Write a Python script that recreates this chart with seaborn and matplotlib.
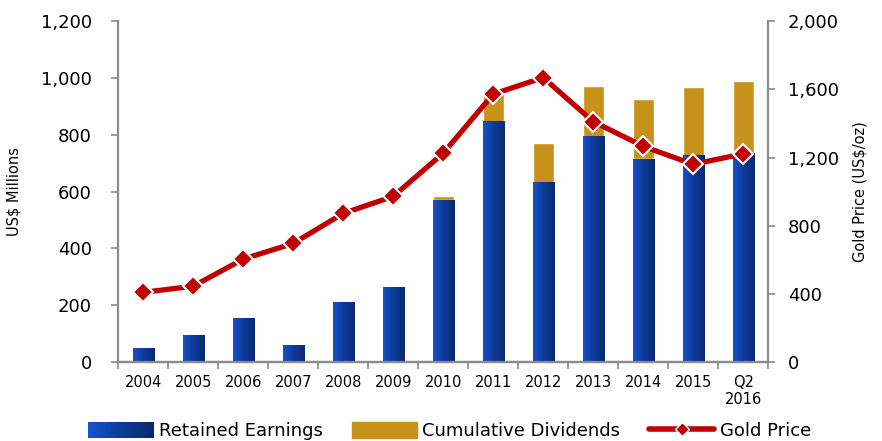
import matplotlib
matplotlib.use("Agg")
import matplotlib.pyplot as plt
import matplotlib.patches as mpatches
from matplotlib.lines import Line2D
from matplotlib.colors import LinearSegmentedColormap
from matplotlib.legend_handler import HandlerBase
import numpy as np
import pandas as pd
import seaborn as sns

# data
years = ["2004", "2005", "2006", "2007", "2008", "2009", "2010",
         "2011", "2012", "2013", "2014", "2015", "Q2\n2016"]
retained = [46, 92, 152, 57, 209, 262, 570, 845, 631, 793, 714, 727, 735]
dividends = [0, 0, 0, 0, 0, 0, 13, 113, 140, 179, 212, 242, 255]
gold_price = [409, 445, 604, 696, 872, 972, 1225, 1572, 1669, 1411, 1266, 1160, 1222]

df = pd.DataFrame({"year": years, "retained": retained, "dividends": dividends, "gold": gold_price})
df["total"] = df["retained"] + df["dividends"]

sns.set_theme(style="white")
plt.rcParams["font.family"] = ["DejaVu Sans"]
plt.rcParams["text.color"] = "black"
plt.rcParams["xtick.color"] = "black"
plt.rcParams["ytick.color"] = "black"
plt.rcParams["axes.labelcolor"] = "black"

blue_dark = "#0A2A70"
blue_light = "#1652C8"
gold_col = "#C8921A"
red_col = "#C00000"
axis_grey = "#8C8C8C"

grad = LinearSegmentedColormap.from_list("bluegrad", [blue_light, "#0D3A9A", blue_dark])


class GradientHandler(HandlerBase):
    # legend key drawn as a left-to-right blue gradient
    def create_artists(self, legend, orig_handle, xdescent, ydescent, width, height, fontsize, trans):
        steps = 24
        out = []
        for i in range(steps):
            r = mpatches.Rectangle((xdescent + width * i / steps - 0.2, -ydescent), width / steps + 0.4, height,
                                   facecolor=grad(i / (steps - 1)), edgecolor="none", transform=trans)
            out.append(r)
        return out


fig, ax = plt.subplots(figsize=(8.82, 4.41), dpi=100)
fig.subplots_adjust(left=0.134, right=0.871, top=0.952, bottom=0.179)

# stacked bars: total (gold) first, retained earnings drawn over it
sns.barplot(data=df, x="year", y="total", color=gold_col, width=0.42,
            saturation=1, ax=ax, zorder=2)
n_gold = len(ax.patches)
sns.barplot(data=df, x="year", y="retained", color=blue_light, width=0.42,
            saturation=1, ax=ax, zorder=3)

# horizontal gradient on the blue bars
gimg = np.linspace(0, 1, 64).reshape(1, -1)
for p in ax.patches[n_gold:]:
    x0, y0 = p.get_x(), p.get_y()
    w, h = p.get_width(), p.get_height()
    if h <= 0:
        continue
    ax.imshow(gimg, cmap=grad, aspect="auto", extent=(x0, x0 + w, y0, y0 + h),
              zorder=3.5, interpolation="bicubic")

ax.set_xlim(-0.5, len(years) - 0.5)
ax.set_ylim(0, 1200)
ax.set_yticks(np.arange(0, 1201, 200))
ax.set_yticklabels([f"{v:,}" for v in range(0, 1201, 200)], fontsize=13)
ax.set_xlabel("")
ax.set_ylabel("US$ Millions", fontsize=10.5, labelpad=14)
ax.tick_params(axis="x", which="major", length=0, labelsize=10.5, pad=9)
ax.set_xticks(np.arange(-0.5, len(years), 1), minor=True)
ax.tick_params(axis="x", which="minor", bottom=True, length=5, color=axis_grey, width=1.2, direction="out")
ax.tick_params(axis="y", left=True, length=5, color=axis_grey, width=1.2, direction="out", pad=14)

# gold price on secondary axis
ax2 = ax.twinx()
sns.lineplot(x=np.arange(len(years)), y=df["gold"], ax=ax2, color=red_col, linewidth=3.8,
             marker="D", markersize=10, markerfacecolor=red_col, markeredgecolor="white",
             markeredgewidth=1.5, zorder=5)
ax2.set_ylim(0, 2000)
ax2.set_yticks(np.arange(0, 2001, 400))
ax2.set_yticklabels([f"{v:,}" for v in range(0, 2001, 400)], fontsize=13)
ax2.set_ylabel("Gold Price (US$/oz)", fontsize=10.5, labelpad=10)
ax2.tick_params(axis="y", right=True, length=5, color=axis_grey, width=1.2, direction="out", pad=9)
ax2.set_xlim(-0.5, len(years) - 0.5)

for a in (ax, ax2):
    a.spines["top"].set_visible(False)
    for s in ("left", "right", "bottom"):
        a.spines[s].set_color(axis_grey)
        a.spines[s].set_linewidth(1.6)
ax.spines["right"].set_visible(False)
ax2.spines["left"].set_visible(False)

# legend
blue_key = mpatches.Patch(facecolor=blue_light)
handles = [
    blue_key,
    mpatches.Patch(facecolor=gold_col, edgecolor=gold_col),
    Line2D([0], [0], color=red_col, linewidth=4, marker="D", markersize=7,
           markerfacecolor=red_col, markeredgecolor="white", markeredgewidth=1),
]
fig.legend(handles, ["Retained Earnings", "Cumulative Dividends", "Gold Price"],
           loc="lower center", bbox_to_anchor=(0.51, -0.035), ncol=3, frameon=False,
           fontsize=13, handlelength=3.6, handleheight=1.0, columnspacing=1.6,
           handletextpad=0.3, handler_map={blue_key: GradientHandler()})

fig.savefig("out.png", dpi=100)
